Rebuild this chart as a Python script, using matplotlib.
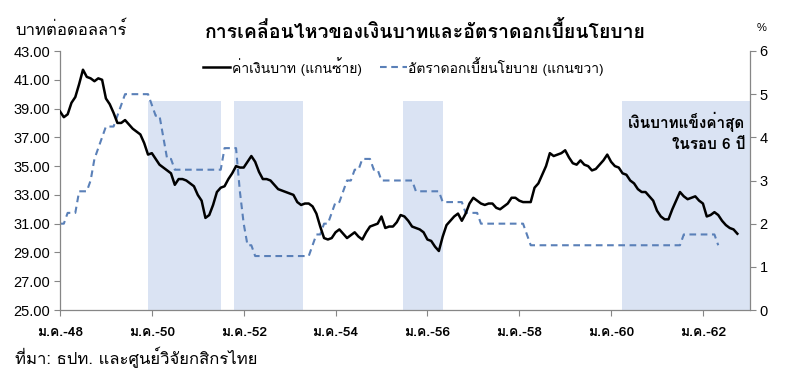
import matplotlib
matplotlib.use("Agg")
import matplotlib.pyplot as plt

THAI = ["Loma", "Noto Sans Thai Looped", "Liberation Sans", "DejaVu Sans"]
NUM = ["Liberation Sans", "DejaVu Sans"]
plt.rcParams["font.family"] = THAI

# monthly data, month 0 = ม.ค.-48 (Jan 2005)
baht = [
    38.8, 38.4, 38.6, 39.4, 39.8, 40.7, 41.7, 41.2, 41.1, 40.9, 41.1, 41.0,
    39.7, 39.3, 38.7, 38.0, 38.0, 38.2, 37.9, 37.6, 37.4, 37.2, 36.6, 35.8,
    35.9, 35.5, 35.1, 34.9, 34.7, 34.5, 33.7, 34.1, 34.1, 34.0, 33.8, 33.6,
    33.0, 32.6, 31.4, 31.6, 32.3, 33.2, 33.5, 33.6, 34.1, 34.5, 35.0, 34.9,
    34.9, 35.3, 35.7, 35.3, 34.6, 34.1, 34.1, 34.0, 33.7, 33.4, 33.3, 33.2,
    33.1, 33.0, 32.5, 32.3, 32.4, 32.4, 32.2, 31.7, 30.8, 30.0, 29.9, 30.0,
    30.4, 30.6, 30.3, 30.0, 30.2, 30.4, 30.1, 29.9, 30.4, 30.8, 30.9, 31.0,
    31.5, 30.7, 30.8, 30.8, 31.1, 31.6, 31.5, 31.2, 30.8, 30.7, 30.6, 30.4,
    29.9, 29.8, 29.4, 29.1, 30.1, 30.9, 31.2, 31.5, 31.7, 31.2, 31.7, 32.4,
    32.8, 32.6, 32.4, 32.3, 32.4, 32.4, 32.1, 32.0, 32.2, 32.4, 32.8, 32.8,
    32.6, 32.5, 32.5, 32.5, 33.5, 33.8, 34.4, 35.0, 35.9, 35.7, 35.8, 35.9,
    36.1, 35.6, 35.2, 35.1, 35.4, 35.1, 35.0, 34.7, 34.8, 35.1, 35.4, 35.8,
    35.3, 35.0, 34.9, 34.5, 34.4, 34.0, 33.8, 33.4, 33.2, 33.2, 32.9, 32.6,
    31.9, 31.5, 31.3, 31.3, 32.0, 32.6, 33.2, 32.9, 32.7, 32.8, 32.9, 32.6,
    32.4, 31.5, 31.6, 31.8, 31.6, 31.2, 30.9, 30.7, 30.6, 30.3,
]
policy_rate = [
    2.00, 2.00, 2.25, 2.25, 2.25, 2.75, 2.75, 2.75, 3.00, 3.50, 3.75, 4.00,
    4.25, 4.25, 4.25, 4.50, 4.75, 5.00, 5.00, 5.00, 5.00, 5.00, 5.00, 5.00,
    4.75, 4.50, 4.50, 4.00, 3.50, 3.50, 3.25, 3.25, 3.25, 3.25, 3.25, 3.25,
    3.25, 3.25, 3.25, 3.25, 3.25, 3.25, 3.25, 3.75, 3.75, 3.75, 3.75, 2.75,
    2.00, 1.50, 1.50, 1.25, 1.25, 1.25, 1.25, 1.25, 1.25, 1.25, 1.25, 1.25,
    1.25, 1.25, 1.25, 1.25, 1.25, 1.25, 1.50, 1.75, 1.75, 2.00, 2.00, 2.25,
    2.50, 2.50, 2.75, 3.00, 3.00, 3.25, 3.25, 3.50, 3.50, 3.50, 3.25, 3.25,
    3.00, 3.00, 3.00, 3.00, 3.00, 3.00, 3.00, 3.00, 3.00, 2.75, 2.75, 2.75,
    2.75, 2.75, 2.75, 2.75, 2.50, 2.50, 2.50, 2.50, 2.50, 2.50, 2.25, 2.25,
    2.25, 2.25, 2.00, 2.00, 2.00, 2.00, 2.00, 2.00, 2.00, 2.00, 2.00, 2.00,
    2.00, 2.00, 1.75, 1.50, 1.50, 1.50, 1.50, 1.50, 1.50, 1.50, 1.50, 1.50,
    1.50, 1.50, 1.50, 1.50, 1.50, 1.50, 1.50, 1.50, 1.50, 1.50, 1.50, 1.50,
    1.50, 1.50, 1.50, 1.50, 1.50, 1.50, 1.50, 1.50, 1.50, 1.50, 1.50, 1.50,
    1.50, 1.50, 1.50, 1.50, 1.50, 1.50, 1.50, 1.75, 1.75, 1.75, 1.75, 1.75,
    1.75, 1.75, 1.75, 1.75, 1.50,
]
# shaded periods (start month, end month)
shade_periods = [(23.0, 42.1), (45.5, 63.5), (89.6, 100.1), (146.9, 180.3)]
shade_top = 4.84  # on right axis

tick_months = [0, 24, 48, 72, 96, 120, 144, 168]
tick_labels = ["ม.ค.-48", "ม.ค.-50", "ม.ค.-52", "ม.ค.-54",
               "ม.ค.-56", "ม.ค.-58", "ม.ค.-60", "ม.ค.-62"]
left_ticks = [25, 27, 29, 31, 33, 35, 37, 39, 41, 43]
right_ticks = [0, 1, 2, 3, 4, 5, 6]

months_b = list(range(len(baht)))
months_r = list(range(len(policy_rate)))

blue = "#5a80b8"
dash = (0, (3.2, 2.2))

fig = plt.figure(figsize=(7.86, 3.79), dpi=100)
ax = fig.add_axes([60 / 786, 1 - 310 / 379, 690 / 786, 259 / 379])
ax2 = ax.twinx()

for a, b in shade_periods:
    ax2.fill_between([a, b], 0, shade_top, color="#dae3f3", lw=0, zorder=0)
ax2.plot(months_r, policy_rate, color=blue, lw=1.5, ls=dash, zorder=2)
ax.plot(months_b, baht, color="black", lw=1.8, zorder=3)

ax.set_zorder(ax2.get_zorder() + 1)
ax.patch.set_visible(False)

ax.set_xlim(0, 180.3)
ax.set_ylim(25, 43)
ax2.set_ylim(0, 6)

ax.set_xticks(tick_months)
ax.set_xticklabels(tick_labels, fontsize=10, fontweight="bold")
ax.set_yticks(left_ticks)
ax.set_yticklabels([f"{v:.2f}" for v in left_ticks], family=NUM, fontsize=10.5)
ax2.set_yticks(right_ticks)
ax2.set_yticklabels([str(v) for v in right_ticks], family=NUM, fontsize=10.5)

for a in (ax, ax2):
    a.spines["top"].set_visible(False)
    for s in ("left", "right", "bottom"):
        a.spines[s].set_color("#868686")
        a.spines[s].set_linewidth(0.9)
ax.spines["right"].set_visible(False)
ax2.spines["left"].set_visible(False)
ax2.spines["bottom"].set_visible(False)
ax.tick_params(axis="x", length=4, color="#868686", pad=8)
ax.tick_params(axis="y", length=4, color="#868686", pad=3)
ax2.tick_params(axis="y", length=4, color="#868686", pad=3)

fig.text(425 / 786, 1 - 32 / 379, "การเคลื่อนไหวของเงินบาทและอัตราดอกเบี้ยนโยบาย",
         ha="center", va="center", fontsize=14, fontweight="bold")
fig.text(15 / 786, 1 - 30 / 379, "บาทต่อดอลลาร์", ha="left", va="center", fontsize=12)
fig.text(762 / 786, 1 - 28 / 379, "%", ha="center", va="center", fontsize=8, family=NUM)

# legend
leg_y = 1 - 67 / 379
fig.add_artist(plt.Line2D([203 / 786, 230 / 786], [leg_y, leg_y], color="black", lw=1.8))
fig.text(232 / 786, leg_y, "ค่าเงินบาท (แกนซ้าย)", ha="left", va="center", fontsize=10)
fig.add_artist(plt.Line2D([380 / 786, 407 / 786], [leg_y, leg_y], color=blue, lw=1.5, ls=dash))
fig.text(408 / 786, leg_y, "อัตราดอกเบี้ยนโยบาย (แกนขวา)", ha="left", va="center", fontsize=10)

ax.text(0.993, 0.726, "เงินบาทแข็งค่าสุด", transform=ax.transAxes,
        ha="right", va="center", fontsize=11, fontweight="bold")
ax.text(0.993, 0.637, "ในรอบ 6 ปี", transform=ax.transAxes,
        ha="right", va="center", fontsize=11, fontweight="bold")

fig.text(15 / 786, 1 - 358 / 379, "ที่มา: ธปท. และศูนย์วิจัยกสิกรไทย", ha="left", va="center",
         fontsize=12)

fig.savefig("out.png", dpi=100)
